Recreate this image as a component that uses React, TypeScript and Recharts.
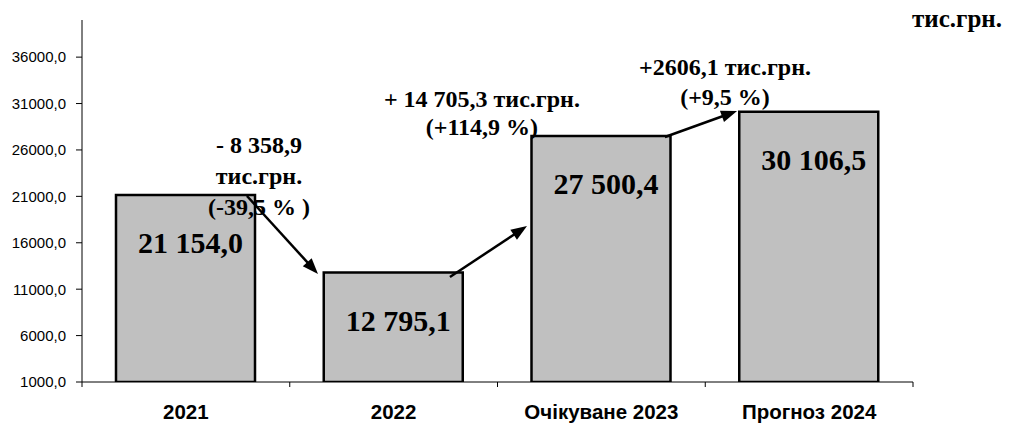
import React from 'react';
import { BarChart, Bar, XAxis, YAxis, ReferenceLine, ReferenceDot, LabelList } from 'recharts';

const categories = ['2021', '2022', 'Очікуване 2023', 'Прогноз 2024'];
const values = [21154.0, 12795.1, 27500.4, 30106.5];
const valueLabels = ['21 154,0', '12 795,1', '27 500,4', '30 106,5'];
const yTicks = [1000, 6000, 11000, 16000, 21000, 26000, 31000, 36000];
const yDomain = [1000, 40000];
const unitLabel = 'тис.грн.';

// arrows in data coordinates (x: category index scale 0..4, y: value)
const arrowStarts = [[0.794, 21039], [1.771, 12312], [2.806, 27395]];
const arrowEnds = [[1.136, 12635], [2.142, 17807], [3.153, 30196]];

// change annotations
const noteLines = [
  ['- 8 358,9', 'тис.грн.', '(-39,5 % )'],
  ['+ 14 705,3 тис.грн.', '(+114,9 %)'],
  ['+2606,1 тис.грн.', '(+9,5 %)'],
];
const notePos = [[0.852, 25671], [1.925, 30627], [3.095, 34075]];
const noteLineHeights = [31, 28, 30];

const CHART_W = 1009;
const CHART_H = 423;
const Y_W = 82;
const M_RIGHT = 96;
const PLOT_W = CHART_W - Y_W - M_RIGHT;

const data = categories.map((c, i) => ({ pos: i + 0.5, name: c, value: values[i], label: valueLabels[i] }));
const xTicks = categories.map((_, i) => i + 0.5);

const serif = '"Liberation Serif", "Times New Roman", serif';
const sans = '"Liberation Sans", Arial, sans-serif';

const fmt = (v: number) => v.toFixed(1).replace('.', ',');

const CatTick = (props: any) => {
  const { x, y, index } = props;
  const bw = PLOT_W / categories.length;
  return (
    <g>
      <line x1={x - bw / 2} y1={y} x2={x - bw / 2} y2={y + 5} stroke="#000" strokeWidth={1} />
      {index === categories.length - 1 && (
        <line x1={x + bw / 2} y1={y} x2={x + bw / 2} y2={y + 5} stroke="#000" strokeWidth={1} />
      )}
      <text x={x} y={y + 37} textAnchor="middle" fontFamily={sans} fontWeight="bold" fontSize={20.5} fill="#000">
        {categories[index]}
      </text>
    </g>
  );
};

const ValueLabel = (props: any) => {
  const { x, y, width, index } = props;
  return (
    <text x={x + width / 2 + 5} y={y + 58} textAnchor="middle" fontFamily={serif} fontWeight="bold" fontSize={30} fill="#000">
      {valueLabels[index]}
    </text>
  );
};

const Arrow = (p: any) => {
  const { x1, y1, x2, y2 } = p;
  const dx = x2 - x1;
  const dy = y2 - y1;
  const len = Math.hypot(dx, dy) || 1;
  const ux = dx / len;
  const uy = dy / len;
  const hl = 16;
  const hw = 6;
  const bx = x2 - ux * hl;
  const by = y2 - uy * hl;
  const pts = `${x2},${y2} ${bx - uy * hw},${by + ux * hw} ${bx + uy * hw},${by - ux * hw}`;
  return (
    <g>
      <line x1={x1} y1={y1} x2={bx + ux * 2} y2={by + uy * 2} stroke="#000" strokeWidth={2.5} />
      <polygon points={pts} fill="#000" />
    </g>
  );
};

const makeNote = (lines: string[], lh: number) => (p: any) => {
  const { cx, cy } = p;
  return (
    <text x={cx} y={cy} textAnchor="middle" fontFamily={serif} fontWeight="bold" fontSize={24} fill="#000">
      {lines.map((l, i) => (
        <tspan key={i} x={cx} y={cy + i * lh}>{l}</tspan>
      ))}
    </text>
  );
};

export default function App() {
  return (
    <div style={{ position: 'absolute', left: 0, top: 0, width: CHART_W, height: CHART_H, background: '#fff' }}>
      <BarChart
        width={CHART_W}
        height={CHART_H}
        data={data}
        margin={{ top: 20, right: M_RIGHT, bottom: 0, left: 0 }}
      >
        <XAxis
          dataKey="pos"
          type="number"
          domain={[0, 4]}
          allowDataOverflow
          ticks={xTicks}
          interval={0}
          height={41}
          tickLine={false}
          tickSize={0}
          tickMargin={0}
          axisLine={{ stroke: '#000', strokeWidth: 1 }}
          tick={<CatTick />}
        />
        <YAxis
          width={Y_W}
          domain={yDomain}
          ticks={yTicks}
          interval={0}
          allowDataOverflow
          tickFormatter={fmt}
          tickSize={6}
          tickMargin={10}
          axisLine={{ stroke: '#000', strokeWidth: 1 }}
          tickLine={{ stroke: '#000', strokeWidth: 1 }}
          tick={{ fill: '#000', fontFamily: sans, fontSize: 15 }}
        />
        <Bar
          dataKey="value"
          fill="#c0c0c0"
          stroke="#000"
          strokeWidth={2.5}
          barSize={139}
          isAnimationActive={false}
        >
          <LabelList dataKey="label" content={<ValueLabel />} />
        </Bar>
        {arrowStarts.map((s, i) => (
          <ReferenceLine
            key={'a' + i}
            segment={[{ x: s[0], y: s[1] }, { x: arrowEnds[i][0], y: arrowEnds[i][1] }]}
            shape={Arrow}
            ifOverflow="visible"
          />
        ))}
        {notePos.map((p, i) => (
          <ReferenceDot
            key={'n' + i}
            x={p[0]}
            y={p[1]}
            r={0}
            ifOverflow="visible"
            shape={makeNote(noteLines[i], noteLineHeights[i])}
          />
        ))}
      </BarChart>
      <svg width={CHART_W} height={40} style={{ position: 'absolute', left: 0, top: 0, pointerEvents: 'none' }}>
        <text x={1002} y={27} textAnchor="end" fontFamily={serif} fontWeight="bold" fontSize={25} fill="#000">
          {unitLabel}
        </text>
      </svg>
    </div>
  );
}
